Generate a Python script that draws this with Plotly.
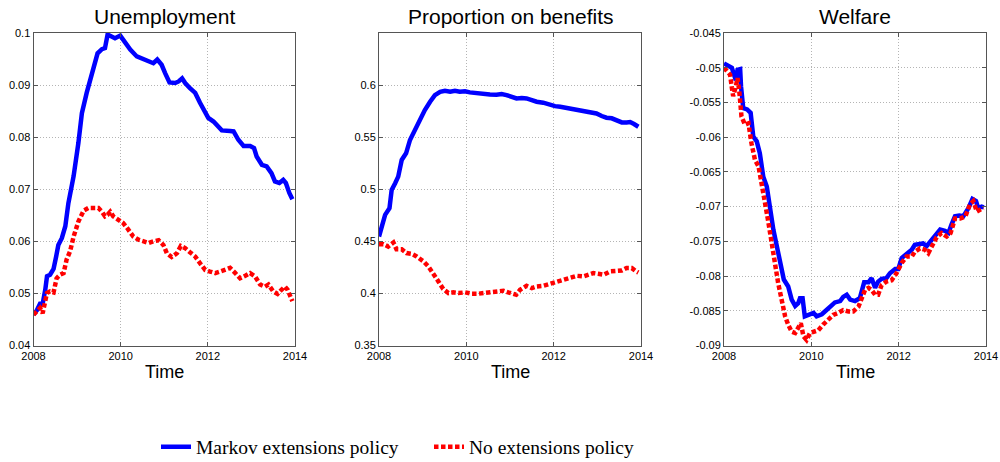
import plotly.graph_objects as go

# ---------------- data ----------------
years = [2008, 2010, 2012, 2014]
year_labels = ["2008", "2010", "2012", "2014"]
titles = ["Unemployment", "Proportion on benefits", "Welfare"]
series_names = ["Markov extensions policy", "No extensions policy"]

# Unemployment - Markov extensions
t_u_m = [2008.0, 2008.08, 2008.15, 2008.21, 2008.27, 2008.31, 2008.38, 2008.46, 2008.52, 2008.57,
         2008.65, 2008.73, 2008.80, 2008.92, 2009.03, 2009.11, 2009.22, 2009.38, 2009.47, 2009.57,
         2009.64, 2009.70, 2009.80, 2009.87, 2009.99, 2010.10, 2010.22, 2010.37, 2010.52, 2010.64,
         2010.75, 2010.84, 2010.94, 2011.02, 2011.12, 2011.25, 2011.33, 2011.41, 2011.48, 2011.59,
         2011.71, 2011.82, 2011.94, 2012.01, 2012.13, 2012.24, 2012.32, 2012.51, 2012.59, 2012.70,
         2012.82, 2012.97, 2013.06, 2013.12, 2013.24, 2013.35, 2013.46, 2013.54, 2013.64, 2013.73,
         2013.79, 2013.87, 2013.94]
u_m = [0.0459, 0.0468, 0.0480, 0.0480, 0.0507, 0.0533, 0.0536, 0.0547, 0.0571, 0.0593,
       0.0606, 0.0629, 0.0673, 0.0725, 0.0789, 0.0846, 0.0885, 0.0929, 0.0961, 0.0969,
       0.0971, 0.0997, 0.0993, 0.0990, 0.0995, 0.0981, 0.0968, 0.0955, 0.0950, 0.0945,
       0.0942, 0.0949, 0.0939, 0.0923, 0.0905, 0.0904, 0.0907, 0.0913, 0.0904, 0.0894,
       0.0885, 0.0866, 0.0849, 0.0837, 0.0830, 0.0821, 0.0813, 0.0812, 0.0811, 0.0795,
       0.0783, 0.0783, 0.0779, 0.0763, 0.0747, 0.0744, 0.0731, 0.0715, 0.0712, 0.0718,
       0.0712, 0.0693, 0.0681]

# Unemployment - No extensions
t_u_n = [2008.0, 2008.08, 2008.15, 2008.21, 2008.25, 2008.31, 2008.38, 2008.46, 2008.53, 2008.61,
         2008.69, 2008.76, 2008.84, 2008.92, 2009.03, 2009.15, 2009.26, 2009.38, 2009.49, 2009.57,
         2009.64, 2009.70, 2009.76, 2009.83, 2009.95, 2010.06, 2010.18, 2010.29, 2010.41, 2010.52,
         2010.64, 2010.75, 2010.87, 2010.98, 2011.06, 2011.17, 2011.29, 2011.38, 2011.48, 2011.59,
         2011.71, 2011.82, 2011.94, 2012.05, 2012.17, 2012.28, 2012.40, 2012.51, 2012.63, 2012.74,
         2012.86, 2012.97, 2013.08, 2013.20, 2013.31, 2013.39, 2013.50, 2013.60, 2013.69, 2013.77,
         2013.83, 2013.89, 2013.94]
u_n = [0.0459, 0.0465, 0.0472, 0.0462, 0.0478, 0.0501, 0.0504, 0.0502, 0.0529, 0.0536,
       0.0539, 0.0565, 0.0581, 0.0609, 0.0638, 0.0659, 0.0664, 0.0664, 0.0664, 0.0657,
       0.0648, 0.0651, 0.0657, 0.0648, 0.0641, 0.0635, 0.0622, 0.0609, 0.0603, 0.0600,
       0.0597, 0.0600, 0.0602, 0.0593, 0.0577, 0.0570, 0.0577, 0.0591, 0.0587, 0.0579,
       0.0571, 0.0558, 0.0545, 0.0542, 0.0539, 0.0542, 0.0545, 0.0549, 0.0539, 0.0529,
       0.0534, 0.0539, 0.0533, 0.0517, 0.0513, 0.0517, 0.0504, 0.0499, 0.0507, 0.0513,
       0.0507, 0.0494, 0.0485]

# Proportion on benefits - Markov extensions
t_b_m = [2008.0, 2008.06, 2008.14, 2008.24, 2008.29, 2008.37, 2008.44, 2008.52, 2008.62, 2008.71,
         2008.82, 2008.94, 2009.05, 2009.17, 2009.28, 2009.40, 2009.51, 2009.63, 2009.74, 2009.85,
         2009.97, 2010.08, 2010.24, 2010.39, 2010.54, 2010.69, 2010.81, 2010.92, 2011.04, 2011.15,
         2011.27, 2011.38, 2011.50, 2011.61, 2011.76, 2011.92, 2012.03, 2012.15, 2012.26, 2012.37,
         2012.53, 2012.68, 2012.79, 2012.91, 2012.98, 2013.10, 2013.21, 2013.33, 2013.44, 2013.56,
         2013.67, 2013.75, 2013.84, 2013.94]
b_m = [0.4546, 0.4642, 0.4754, 0.4818, 0.4994, 0.5058, 0.5121, 0.5281, 0.5345, 0.5473,
       0.5569, 0.5665, 0.5760, 0.5840, 0.5904, 0.5936, 0.5946, 0.5936, 0.5946, 0.5936,
       0.5940, 0.5930, 0.5920, 0.5914, 0.5910, 0.5907, 0.5914, 0.5904, 0.5882, 0.5872,
       0.5875, 0.5872, 0.5856, 0.5840, 0.5831, 0.5808, 0.5798, 0.5792, 0.5783, 0.5773,
       0.5760, 0.5744, 0.5735, 0.5735, 0.5728, 0.5703, 0.5687, 0.5681, 0.5665, 0.5642,
       0.5642, 0.5645, 0.5626, 0.5600]

# Proportion on benefits - No extensions
t_b_n = [2008.0, 2008.10, 2008.21, 2008.33, 2008.40, 2008.52, 2008.63, 2008.75, 2008.86, 2009.02,
         2009.13, 2009.24, 2009.36, 2009.47, 2009.59, 2009.70, 2009.82, 2009.97, 2010.12, 2010.27,
         2010.43, 2010.58, 2010.73, 2010.85, 2010.96, 2011.04, 2011.14, 2011.23, 2011.38, 2011.50,
         2011.61, 2011.76, 2011.92, 2012.03, 2012.15, 2012.26, 2012.37, 2012.53, 2012.68, 2012.79,
         2012.91, 2013.02, 2013.14, 2013.29, 2013.44, 2013.56, 2013.67, 2013.79, 2013.89, 2013.94]
b_n = [0.4473, 0.4473, 0.4450, 0.4489, 0.4425, 0.4425, 0.4387, 0.4380, 0.4355, 0.4307,
       0.4259, 0.4195, 0.4115, 0.4042, 0.4003, 0.4010, 0.4003, 0.4010, 0.3997, 0.3997,
       0.4003, 0.4010, 0.4016, 0.4026, 0.4010, 0.3997, 0.3987, 0.4035, 0.4073, 0.4051,
       0.4067, 0.4073, 0.4093, 0.4105, 0.4121, 0.4137, 0.4157, 0.4169, 0.4163, 0.4179,
       0.4195, 0.4188, 0.4179, 0.4211, 0.4211, 0.4220, 0.4243, 0.4243, 0.4211, 0.4200]

# Welfare - Markov extensions
t_w_m = [2008.0, 2008.10, 2008.18, 2008.23, 2008.27, 2008.31, 2008.37, 2008.39, 2008.44, 2008.53,
         2008.61, 2008.67, 2008.75, 2008.82, 2008.90, 2008.98, 2009.05, 2009.13, 2009.21, 2009.28,
         2009.37, 2009.47, 2009.55, 2009.63, 2009.70, 2009.74, 2009.80, 2009.85, 2009.97, 2010.05,
         2010.12, 2010.24, 2010.31, 2010.43, 2010.54, 2010.66, 2010.73, 2010.81, 2010.89, 2011.00,
         2011.11, 2011.21, 2011.31, 2011.38, 2011.46, 2011.53, 2011.61, 2011.72, 2011.80, 2011.92,
         2011.99, 2012.07, 2012.18, 2012.30, 2012.37, 2012.49, 2012.56, 2012.64, 2012.73, 2012.83,
         2012.95, 2013.06, 2013.14, 2013.21, 2013.29, 2013.39, 2013.48, 2013.60, 2013.69, 2013.77,
         2013.82, 2013.90, 2013.95]
w_m = [-0.0494, -0.0497, -0.0500, -0.0510, -0.0518, -0.0503, -0.0502, -0.0527, -0.0558, -0.0560,
       -0.0565, -0.0599, -0.0606, -0.0623, -0.0657, -0.0671, -0.0705, -0.0733, -0.0757, -0.0781,
       -0.0805, -0.0815, -0.0834, -0.0843, -0.0839, -0.0832, -0.0832, -0.0858, -0.0856, -0.0853,
       -0.0858, -0.0855, -0.0851, -0.0844, -0.0838, -0.0836, -0.0830, -0.0827, -0.0834, -0.0836,
       -0.0832, -0.0809, -0.0809, -0.0803, -0.0817, -0.0808, -0.0804, -0.0803, -0.0796, -0.0790,
       -0.0790, -0.0774, -0.0768, -0.0762, -0.0755, -0.0753, -0.0753, -0.0757, -0.0750, -0.0741,
       -0.0733, -0.0735, -0.0738, -0.0726, -0.0714, -0.0713, -0.0714, -0.0702, -0.0689, -0.0692,
       -0.0702, -0.0700, -0.0701]

# Welfare - No extensions
t_w_n = [2008.0, 2008.06, 2008.14, 2008.18, 2008.21, 2008.27, 2008.31, 2008.35, 2008.40, 2008.48,
         2008.56, 2008.63, 2008.71, 2008.79, 2008.86, 2008.94, 2009.02, 2009.09, 2009.17, 2009.24,
         2009.32, 2009.40, 2009.47, 2009.55, 2009.63, 2009.70, 2009.76, 2009.82, 2009.89, 2009.97,
         2010.05, 2010.16, 2010.27, 2010.39, 2010.50, 2010.62, 2010.73, 2010.85, 2010.96, 2011.08,
         2011.15, 2011.23, 2011.31, 2011.38, 2011.46, 2011.53, 2011.61, 2011.72, 2011.84, 2011.95,
         2012.07, 2012.18, 2012.30, 2012.37, 2012.49, 2012.60, 2012.68, 2012.76, 2012.87, 2012.98,
         2013.10, 2013.19, 2013.29, 2013.41, 2013.53, 2013.63, 2013.71, 2013.79, 2013.87, 2013.94]
w_n = [-0.0500, -0.0505, -0.0510, -0.0529, -0.0541, -0.0527, -0.0515, -0.0534, -0.0570, -0.0582,
       -0.0580, -0.0609, -0.0633, -0.0642, -0.0671, -0.0695, -0.0724, -0.0753, -0.0781, -0.0810,
       -0.0834, -0.0858, -0.0870, -0.0880, -0.0882, -0.0875, -0.0868, -0.0887, -0.0892, -0.0882,
       -0.0880, -0.0878, -0.0870, -0.0863, -0.0856, -0.0853, -0.0849, -0.0851, -0.0851, -0.0844,
       -0.0832, -0.0820, -0.0817, -0.0820, -0.0827, -0.0827, -0.0813, -0.0808, -0.0806, -0.0796,
       -0.0781, -0.0772, -0.0772, -0.0765, -0.0760, -0.0762, -0.0767, -0.0756, -0.0744, -0.0738,
       -0.0743, -0.0738, -0.0717, -0.0717, -0.0714, -0.0697, -0.0692, -0.0707, -0.0705, -0.0702]

# y ticks for each panel
yt_u = [0.04, 0.05, 0.06, 0.07, 0.08, 0.09, 0.1]
yt_u_lab = ["0.04", "0.05", "0.06", "0.07", "0.08", "0.09", "0.1"]
yt_b = [0.35, 0.4, 0.45, 0.5, 0.55, 0.6]
yt_b_lab = ["0.35", "0.4", "0.45", "0.5", "0.55", "0.6"]
yt_w = [-0.09, -0.085, -0.08, -0.075, -0.07, -0.065, -0.06, -0.055, -0.05, -0.045]
yt_w_lab = ["-0.09", "-0.085", "-0.08", "-0.075", "-0.07", "-0.065", "-0.06", "-0.055", "-0.05", "-0.045"]

# ---------------- figure ----------------
W, H = 1000, 462
BLUE = "#0000FF"
RED = "#FF0000"
LW = 4.5
RED_DASH = "4.5px,2.5px"


def fx(px):
    return px / W


def fy(py):
    return 1 - py / H


panels = [
    dict(t1=t_u_m, y1=u_m, t2=t_u_n, y2=u_n, yr=[0.04, 0.1], tv=yt_u, tt=yt_u_lab, px=(33.5, 295)),
    dict(t1=t_b_m, y1=b_m, t2=t_b_n, y2=b_n, yr=[0.35, 0.65], tv=yt_b, tt=yt_b_lab, px=(379, 641)),
    dict(t1=t_w_m, y1=w_m, t2=t_w_n, y2=w_n, yr=[-0.09, -0.045], tv=yt_w, tt=yt_w_lab, px=(724, 986)),
]

y_top_px, y_bot_px = 33, 345.5
ydom = [fy(y_bot_px), fy(y_top_px)]

fig = go.Figure()
layout = dict(
    width=W, height=H,
    margin=dict(l=0, r=0, t=0, b=0, autoexpand=False),
    paper_bgcolor="white", plot_bgcolor="white",
    font=dict(family="Liberation Sans, Arial, sans-serif", color="black", size=11),
    showlegend=True,
    legend=dict(
        orientation="h", x=fx(156), xanchor="left", y=fy(447), yanchor="middle",
        font=dict(family="Liberation Serif, Times New Roman, serif", size=19.5, color="black"),
        bgcolor="rgba(0,0,0,0)", borderwidth=0, entrywidth=228, entrywidthmode="pixels",
    ),
)
annotations = []
AX_COLOR = "#555555"
GRID_COLOR = "#b4b4b4"

for i, p in enumerate(panels):
    n = i + 1
    xa = "x" if n == 1 else f"x{n}"
    ya = "y" if n == 1 else f"y{n}"
    fig.add_trace(go.Scatter(x=p["t1"], y=p["y1"], mode="lines", name=series_names[0],
                             line=dict(color=BLUE, width=LW), xaxis=xa, yaxis=ya,
                             showlegend=(n == 1), legendgroup="m"))
    fig.add_trace(go.Scatter(x=p["t2"], y=p["y2"], mode="lines", name=series_names[1],
                             line=dict(color=RED, width=LW, dash=RED_DASH), xaxis=xa, yaxis=ya,
                             showlegend=(n == 1), legendgroup="n"))
    x0, x1 = p["px"]
    common = dict(showline=True, linecolor=AX_COLOR, linewidth=1, mirror="ticks",
                  ticks="inside", ticklen=4, tickcolor=AX_COLOR, tickwidth=1,
                  showgrid=True, gridcolor=GRID_COLOR, griddash="1px,2px", gridwidth=1,
                  zeroline=False, automargin=False, ticklabeloverflow="allow",
                  tickfont=dict(size=11, color="black"))
    layout["xaxis" if n == 1 else f"xaxis{n}"] = dict(
        domain=[fx(x0), fx(x1)], range=[2008, 2014], anchor=ya,
        tickmode="array", tickvals=years, ticktext=year_labels, **common)
    layout["yaxis" if n == 1 else f"yaxis{n}"] = dict(
        domain=ydom, range=p["yr"], anchor=xa,
        tickmode="array", tickvals=p["tv"], ticktext=p["tt"], **common)
    cx = fx((x0 + x1) / 2)
    annotations.append(dict(text=titles[i], x=cx, y=fy(16), xref="paper", yref="paper",
                            xanchor="center", yanchor="middle", showarrow=False,
                            font=dict(size=21, color="black")))
    annotations.append(dict(text="Time", x=cx, y=fy(372), xref="paper", yref="paper",
                            xanchor="center", yanchor="middle", showarrow=False,
                            font=dict(size=18, color="black")))

layout["annotations"] = annotations
fig.update_layout(**layout)
# remove the browser's default 8px body margin so the figure fills the window exactly
fig.write_html("out.html", config={"displayModeBar": False},
               post_script="document.body.style.margin='0';document.body.style.overflow='hidden';")
